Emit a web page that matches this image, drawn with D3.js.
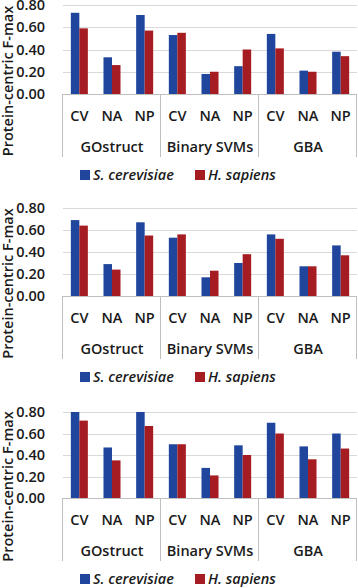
<!DOCTYPE html>
<html>
<head>
<meta charset="utf-8">
<script src="https://cdn.jsdelivr.net/npm/d3@7"></script>
<style>
  html, body { margin: 0; padding: 0; background: #fff; }
  svg { display: block; font-family: "Open Sans", sans-serif; }
</style>
</head>
<body>
<div id="root"></div>
<script>
const width = 358,
      height = 588

// categories
const groups = ['GOstruct', 'Binary SVMs', 'GBA']
const methods = ['CV', 'NA', 'NP']
const seriesNames = ['S. cerevisiae', 'H. sapiens']
const yTicks = [0, 0.2, 0.4, 0.6, 0.8]

// values, in order GOstruct CV/NA/NP, Binary SVMs CV/NA/NP, GBA CV/NA/NP
const panel1Yeast = [0.73, 0.33, 0.71, 0.53, 0.18, 0.25, 0.54, 0.21, 0.38]
const panel1Human = [0.59, 0.26, 0.57, 0.55, 0.20, 0.40, 0.41, 0.20, 0.34]
const panel2Yeast = [0.69, 0.29, 0.67, 0.53, 0.17, 0.30, 0.56, 0.27, 0.46]
const panel2Human = [0.64, 0.24, 0.55, 0.56, 0.23, 0.38, 0.52, 0.27, 0.37]
const panel3Yeast = [0.80, 0.47, 0.80, 0.50, 0.28, 0.49, 0.70, 0.48, 0.60]
const panel3Human = [0.72, 0.35, 0.67, 0.50, 0.21, 0.40, 0.60, 0.36, 0.46]

const colors = ['#1f469c', '#a51c22']

// y positions of the top gridline and the zero line of each panel
const panels = [
  { yeast: panel1Yeast, human: panel1Human, top: 5, zero: 94 },
  { yeast: panel2Yeast, human: panel2Human, top: 208, zero: 296 },
  { yeast: panel3Yeast, human: panel3Human, top: 412, zero: 498 }
]

const plotLeft = 63, plotRight = 357
const fontSize = 14.5

const svg = d3.select('#root')
  .append('svg')
  .attr('width', width)
  .attr('height', height)
  .attr('font-weight', 600)
  .attr('fill', '#1a1a1a')

svg.append('rect').attr('width', width).attr('height', height).attr('fill', '#fff')

const cats = d3.range(groups.length * methods.length)

const x0 = d3.scaleBand()
  .domain(cats)
  .range([plotLeft, plotRight])

const x1 = d3.scaleBand()
  .domain(seriesNames)
  .range([0, x0.bandwidth()])
  .paddingOuter(0.92)

const xGroup = d3.scaleBand()
  .domain(groups)
  .range([plotLeft, plotRight])

panels.forEach(p => {
  const g = svg.append('g')

  const y = d3.scaleLinear()
    .domain([0, 0.8])
    .range([p.zero, p.top])
    .clamp(true)

  // gridlines
  g.append('g')
    .selectAll('line')
    .data(yTicks)
    .enter().append('line')
    .attr('x1', plotLeft)
    .attr('x2', plotRight)
    .attr('y1', d => Math.round(y(d)) + 0.5)
    .attr('y2', d => Math.round(y(d)) + 0.5)
    .attr('stroke', d => d === 0 ? '#bfbfbf' : '#d9d9d9')
    .attr('stroke-width', 1)

  // y tick labels
  g.append('g')
    .selectAll('text')
    .data(yTicks)
    .enter().append('text')
    .attr('x', 45)
    .attr('y', d => y(d))
    .attr('dy', '0.35em')
    .attr('text-anchor', 'end')
    .attr('font-size', fontSize)
    .text(d3.format('.2f'))

  // bars
  const rows = cats.map(i => ({ i, vals: [p.yeast[i], p.human[i]] }))
  const cat = g.append('g')
    .selectAll('g')
    .data(rows)
    .enter().append('g')
    .attr('transform', d => `translate(${x0(d.i)},0)`)

  cat.selectAll('rect')
    .data(d => d.vals.map((v, k) => ({ key: seriesNames[k], v, k })))
    .enter().append('rect')
    .attr('x', d => x1(d.key))
    .attr('width', x1.bandwidth())
    .attr('y', d => y(d.v))
    .attr('height', d => y(0) - y(d.v))
    .attr('fill', d => colors[d.k])

  // category separators
  const bottom = p.zero + 63
  g.append('g')
    .selectAll('line')
    .data(groups.map(gr => xGroup(gr)).concat([plotRight]))
    .enter().append('line')
    .attr('x1', d => Math.round(d) - 0.5)
    .attr('x2', d => Math.round(d) - 0.5)
    .attr('y1', p.zero)
    .attr('y2', bottom)
    .attr('stroke', '#bfbfbf')

  // method labels
  g.append('g')
    .selectAll('text')
    .data(cats)
    .enter().append('text')
    .attr('x', d => x0(d) + x0.bandwidth() / 2)
    .attr('y', p.zero + 22)
    .attr('dy', '0.35em')
    .attr('text-anchor', 'middle')
    .attr('font-size', fontSize)
    .text(d => methods[d % methods.length])

  // group labels
  g.append('g')
    .selectAll('text')
    .data(groups)
    .enter().append('text')
    .attr('x', d => xGroup(d) + xGroup.bandwidth() / 2)
    .attr('y', p.zero + 53)
    .attr('dy', '0.35em')
    .attr('text-anchor', 'middle')
    .attr('font-size', fontSize)
    .text(d => d)

  // axis title
  g.append('text')
    .attr('transform', `translate(13,${(p.top + bottom) / 2}) rotate(-90)`)
    .attr('text-anchor', 'middle')
    .attr('font-size', fontSize)
    .text('Protein-centric F-max')

  // legend
  const legendX = [80, 195]
  const leg = g.append('g')
    .selectAll('g')
    .data(seriesNames)
    .enter().append('g')
    .attr('transform', (d, k) => `translate(${legendX[k]},${p.zero + 81})`)
  leg.append('rect')
    .attr('x', 0)
    .attr('y', -5)
    .attr('width', 10)
    .attr('height', 10)
    .attr('fill', (d, k) => colors[k])
  leg.append('text')
    .attr('x', 13)
    .attr('dy', '0.35em')
    .attr('font-size', fontSize)
    .attr('font-style', 'italic')
    .text(d => d)
})
</script>
</body>
</html>
